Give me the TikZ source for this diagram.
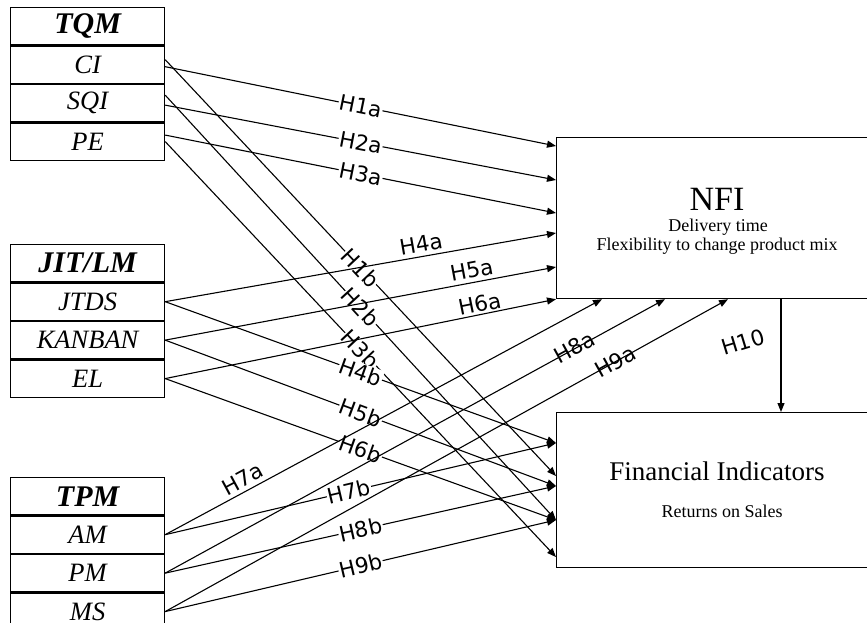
\documentclass[tikz,border=0pt]{standalone}
\usepackage{fontspec}
\setmainfont{Liberation Serif}
\newfontfamily\hypfont{DejaVu Sans}
\usetikzlibrary{arrows.meta}

\begin{document}
\begin{tikzpicture}[x=1pt,y=-1pt,
  rowbox/.style={draw, line width=1.2pt, minimum width=154pt, minimum height=37.25pt,
    inner sep=0pt, anchor=north, font=\fontsize{26.5}{26.5}\selectfont\itshape},
  headbox/.style={rowbox, anchor=north west, font=\fontsize{30}{30}\selectfont\bfseries\itshape},
  bigbox/.style={draw, line width=1.2pt, minimum width=322pt, inner sep=0pt, anchor=north west},
  conn/.style={line width=1.1pt, -{Triangle[length=9pt,width=7pt]}},
  hyptext/.style={font=\hypfont\fontsize{21.5}{21.5}\selectfont, inner sep=0.8pt},
  hyp/.style={hyptext, sloped},
  cut/.style={hyp, fill=white},
  bigtext/.style={anchor=base},
]
\useasboundingbox (0,0) rectangle (867,622);
\clip (0,0) rectangle (867,622);

% construct blocks
\node[headbox] (tqm) at (10,7) {TQM};
\node[rowbox] (ci)  at (tqm.south) {CI};
\node[rowbox] (sqi) at (ci.south)  {SQI};
\node[rowbox] (pe)  at (sqi.south) {PE};

\node[headbox] (jit) at (10,244) {JIT/LM};
\node[rowbox] (jtds)   at (jit.south)    {JTDS};
\node[rowbox] (kanban) at (jtds.south)   {KANBAN};
\node[rowbox] (el)     at (kanban.south) {EL};

\node[headbox] (tpm) at (10,477) {TPM};
\node[rowbox] (am) at (tpm.south) {AM};
\node[rowbox] (pm) at (am.south)  {PM};
\node[rowbox] (ms) at (pm.south)  {MS};

% outcome blocks
\node[bigbox, minimum height=161pt] (nfi) at (556,137) {};
\node[bigtext, font=\fontsize{34}{34}\selectfont] (nfiname) at (717,210) {NFI};
\node[bigtext, font=\fontsize{18}{18}\selectfont] (nfidel) at (718,231) {Delivery time};
\node[bigtext, font=\fontsize{18}{18}\selectfont] (nfiflex) at (717,250) {Flexibility to change product mix};

\node[bigbox, minimum height=155pt] (fin) at (556,412) {};
\node[bigtext, font=\fontsize{27}{27}\selectfont] (finname) at (717,480) {Financial Indicators};
\node[bigtext, font=\fontsize{18}{18}\selectfont] (finros) at (722,517) {Returns on Sales};

% TQM paths
\draw[conn] ([yshift=-2pt]ci.east)  -- node[cut] {H1a} ([yshift=-9pt]nfi.north west);
\draw[conn] ([yshift=5pt]ci.east)   -- node[cut] {H1b} ([yshift=-64pt]fin.north west);
\draw[conn] ([yshift=-2pt]sqi.east) -- node[cut] {H2a} ([yshift=-43pt]nfi.north west);
\draw[conn] ([yshift=8pt]sqi.east)  -- node[cut] {H2b} ([yshift=-108pt]fin.north west);
\draw[conn] ([yshift=6.5pt]pe.east) -- node[cut] {H3a} ([yshift=-76pt]nfi.north west);
\draw[conn] (pe.east)               -- node[cut] {H3b} ([yshift=-145pt]fin.north west);

% JIT/LM paths
\draw[conn] (jtds.east)   -- node[hyp, pos=0.66, above=3pt] {H4a} ([yshift=-96pt]nfi.north west);
\draw[conn] (jtds.east)   -- node[cut] {H4b} ([yshift=-31pt]fin.north west);
\draw[conn] (kanban.east) -- node[hyp, pos=0.79, above=3pt] {H5a} ([yshift=-130pt]nfi.north west);
\draw[conn] (kanban.east) -- node[cut] {H5b} ([yshift=-74pt]fin.north west);
\draw[conn] (el.east)     -- node[hyp, pos=0.81, above=1pt] {H6a} (nfi.south west);
\draw[conn] (el.east)     -- node[cut] {H6b} ([yshift=-108pt]fin.north west);

% TPM paths
\draw[conn] (am.east) -- node[hyp, pos=0.19, above=3pt] {H7a} ([xshift=46pt]nfi.south west);
\draw[conn] (am.east) -- node[cut, pos=0.47] {H7b} ([yshift=-31pt]fin.north west);
\draw[conn] (pm.east) -- node[hyp, pos=0.82, above=-8pt] {H8a} ([xshift=109pt]nfi.south west);
\draw[conn] (pm.east) -- node[cut] {H8b} ([yshift=-74pt]fin.north west);
\draw[conn] (ms.east) -- node[hyp, pos=0.8] {H9a} ([xshift=172pt]nfi.south west);
\draw[conn] (ms.east) -- node[cut] {H9b} ([yshift=-108pt]fin.north west);

% NFI to financial outcome
\draw[conn] ([xshift=225pt]nfi.south west) -- ([xshift=225pt]fin.north west);
\node[hyptext, rotate=17] (h10) at (743,342) {H10};
\end{tikzpicture}
\end{document}
